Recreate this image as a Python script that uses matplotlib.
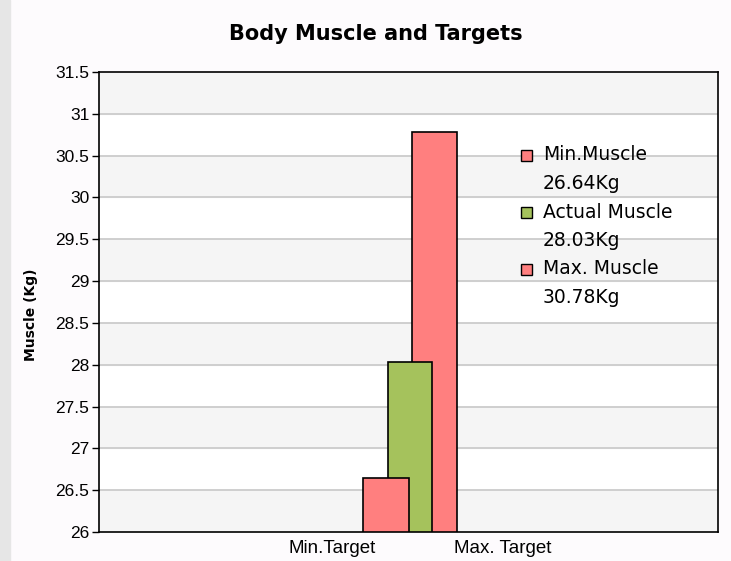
import matplotlib.pyplot as plt
from matplotlib.patches import Rectangle

# data
series = ["Min.Muscle", "Actual Muscle", "Max. Muscle"]
values = [26.64, 28.03, 30.78]
value_text = ["26.64Kg", "28.03Kg", "30.78Kg"]
colors = ["#ff7f7f", "#a5c25c", "#ff7f7f"]
cat_labels = ["Min.Target", "Max. Target"]
yticks = [26 + 0.5 * i for i in range(12)]

# layout (x axis runs 0..1)
bar_x = [0.4637, 0.5024, 0.5420]
bar_w = [0.074, 0.071, 0.073]
bar_z = [5, 4, 3]          # min bar in front, max bar behind
cat_x = [0.3764, 0.6527]

fig = plt.figure(figsize=(7.31, 5.61), dpi=100, facecolor="#fdfbfd")
fig.patches.append(Rectangle((0, 0), 0.014, 1, transform=fig.transFigure,
                             color="#e6e6e6", zorder=0))
ax = fig.add_axes([99 / 731, 1 - 532 / 561, 619 / 731, 460 / 561])
ax.set_facecolor("white")

# alternating bands + grid
for i in range(len(yticks) - 1):
    if (len(yticks) - 2 - i) % 2 == 0:
        ax.axhspan(yticks[i], yticks[i + 1], color="#f5f5f5", zorder=0)
for y in yticks[1:-1]:
    ax.axhline(y, color="#c8c8c8", lw=1.2, zorder=1)

for x, w, v, c, z in zip(bar_x, bar_w, values, colors, bar_z):
    ax.bar(x, v - 26, width=w, bottom=26, color=c, edgecolor="black",
           linewidth=1.2, zorder=z)

ax.set_xlim(0, 1)
ax.set_ylim(26, 31.5)
ax.set_yticks(yticks)
ax.set_yticklabels([f"{t:g}" for t in yticks], fontsize=12.5, family="Liberation Sans")
ax.set_xticks(cat_x)
ax.set_xticklabels(cat_labels, fontsize=13.5, family="Liberation Sans")
ax.tick_params(axis="x", length=0, pad=6)
ax.tick_params(axis="y", length=5, width=1, direction="out", pad=2)
for s in ax.spines.values():
    s.set_linewidth(1.2)

ax.set_ylabel("Muscle (Kg)", fontsize=10, fontweight="bold")
ax.yaxis.set_label_coords(-0.0985, 0.472)
ax.set_title("Body Muscle and Targets", fontsize=15, fontweight="bold",
             x=0.4475, pad=23)

# legend: square + two text lines per entry
sq_x = (521 - 99) / 619
tx_x = (543 - 99) / 619
line_h = 28.5 / 460
y0 = (532 - 155) / 460
for i, (name, vt, c) in enumerate(zip(series, value_text, colors)):
    yy = y0 - 2 * i * line_h
    ax.add_patch(Rectangle((sq_x, yy - 5.5 / 460), 11 / 619, 11 / 460,
                           transform=ax.transAxes, facecolor=c,
                           edgecolor="black", lw=1, zorder=6))
    ax.text(tx_x, yy, name, transform=ax.transAxes, fontsize=13.5,
            va="center", ha="left", zorder=6)
    ax.text(tx_x, yy - line_h, vt, transform=ax.transAxes, fontsize=13.5,
            va="center", ha="left", zorder=6)

plt.savefig("out.png", dpi=100, facecolor=fig.get_facecolor())
